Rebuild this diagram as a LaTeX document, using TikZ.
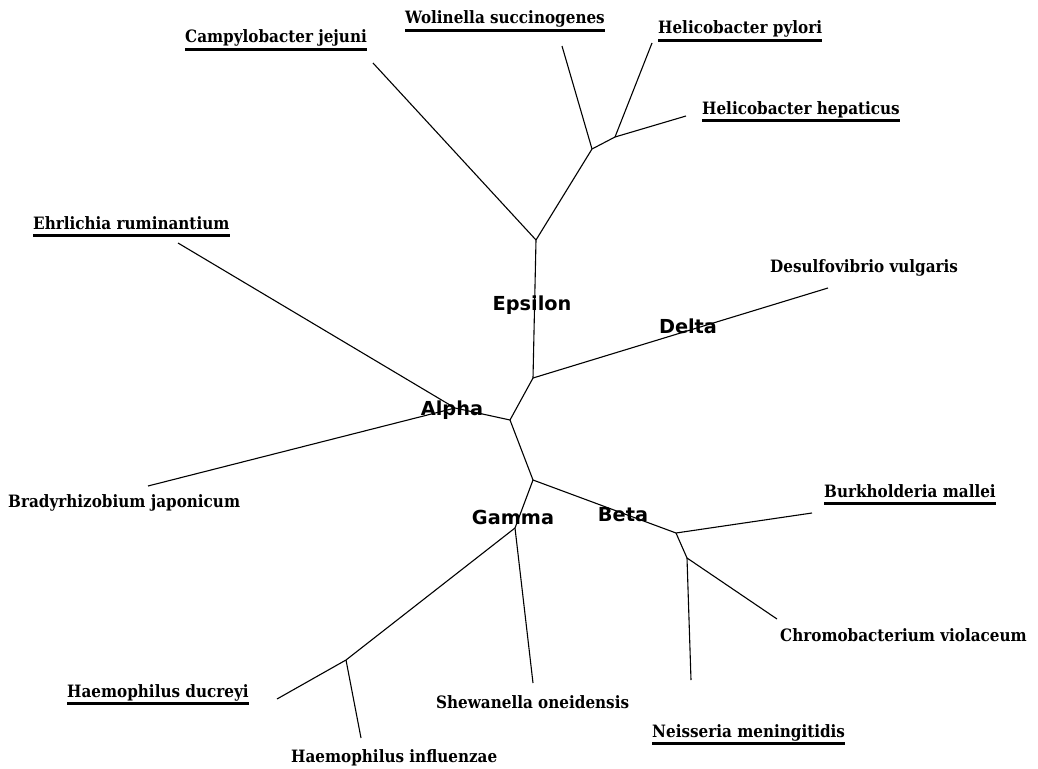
\documentclass[tikz,border=0pt]{standalone}
\usepackage{fontspec}
\newfontfamily\leaffont{DejaVu Serif}
\newfontfamily\groupfont{DejaVu Sans}
% species names are set slightly taller than the font's natural shape
\newcommand\tallname[1]{\scalebox{1}[1.12]{#1}}
\begin{document}
\begin{tikzpicture}[x=1pt,y=-1pt,
  branch/.style={line width=1.1pt,line join=round},
  leaf/.style={inner sep=0pt,anchor=base west,font=\leaffont\bfseries\fontsize{15.2}{17}\selectfont},
  grp/.style={inner sep=0pt,anchor=base,font=\groupfont\bfseries\fontsize{19.3}{22}\selectfont},
  uline/.style={line width=3pt}]
\useasboundingbox (0,0) rectangle (1038,768);
% internal junctions
\coordinate (c) at (510,420);
\coordinate (de) at (533,378);
\coordinate (ej) at (536,240);
\coordinate (wj) at (592,149);
\coordinate (hj) at (615,137);
\coordinate (aj) at (455,408);
\coordinate (lj) at (533,480);
\coordinate (bj) at (676,533);
\coordinate (bs) at (687,558);
\coordinate (gj) at (515,528);
\coordinate (hm) at (346,660);
% leaf tips
\coordinate (tCam) at (373,63);
\coordinate (tWol) at (562,46);
\coordinate (tPyl) at (652,43);
\coordinate (tHep) at (686,116);
\coordinate (tEhr) at (178,243);
\coordinate (tBra) at (148,486);
\coordinate (tDes) at (828,288);
\coordinate (tBur) at (812,513);
\coordinate (tNei) at (691,680);
\coordinate (tChr) at (777,619);
\coordinate (tShe) at (533,683);
\coordinate (tDuc) at (277,699);
\coordinate (tInf) at (361,738);
% branches
\draw[branch] (c) -- (de) -- (ej) -- (wj) -- (hj) -- (tHep);
\draw[branch] (ej) -- (tCam);
\draw[branch] (wj) -- (tWol);
\draw[branch] (hj) -- (tPyl);
\draw[branch] (de) -- (tDes);
\draw[branch] (c) -- (aj) -- (tEhr);
\draw[branch] (aj) -- (tBra);
\draw[branch] (c) -- (lj) -- (bj) -- (tBur);
\draw[branch] (bj) -- (bs) -- (tNei);
\draw[branch] (bs) -- (tChr);
\draw[branch] (lj) -- (gj) -- (tShe);
\draw[branch] (gj) -- (hm) -- (tDuc);
\draw[branch] (hm) -- (tInf);
% group names
\node[grp] (gEps) at (532,310) {Epsilon};
\node[grp] (gDel) at (688,333) {Delta};
\node[grp] (gAlp) at (452,415) {Alpha};
\node[grp] (gGam) at (513,524) {Gamma};
\node[grp] (gBet) at (623,521) {Beta};
% species names
\node[leaf] (nCam) at (185,43) {\tallname{Campylobacter jejuni}};
\node[leaf] (nWol) at (405,24) {\tallname{Wolinella succinogenes}};
\node[leaf] (nPyl) at (658,34) {\tallname{Helicobacter pylori}};
\node[leaf] (nHep) at (702,114) {\tallname{Helicobacter hepaticus}};
\node[leaf] (nEhr) at (33,229) {\tallname{Ehrlichia ruminantium}};
\node[leaf] (nDes) at (770,272) {\tallname{Desulfovibrio vulgaris}};
\node[leaf] (nBra) at (8,507) {\tallname{Bradyrhizobium japonicum}};
\node[leaf] (nBur) at (824,497) {\tallname{Burkholderia mallei}};
\node[leaf] (nChr) at (780,641) {\tallname{Chromobacterium violaceum}};
\node[leaf] (nShe) at (436,708) {\tallname{Shewanella oneidensis}};
\node[leaf] (nNei) at (652,737) {\tallname{Neisseria meningitidis}};
\node[leaf] (nDuc) at (67,697) {\tallname{Haemophilus ducreyi}};
\node[leaf] (nInf) at (291,762) {\tallname{Haemophilus influenzae}};
% underlines
\foreach \n in {nCam,nWol,nPyl,nHep,nEhr,nBur,nNei,nDuc}
  \draw[uline] ([yshift=-6.5pt]\n.base west) -- ([yshift=-6.5pt]\n.base east);
\end{tikzpicture}
\end{document}
